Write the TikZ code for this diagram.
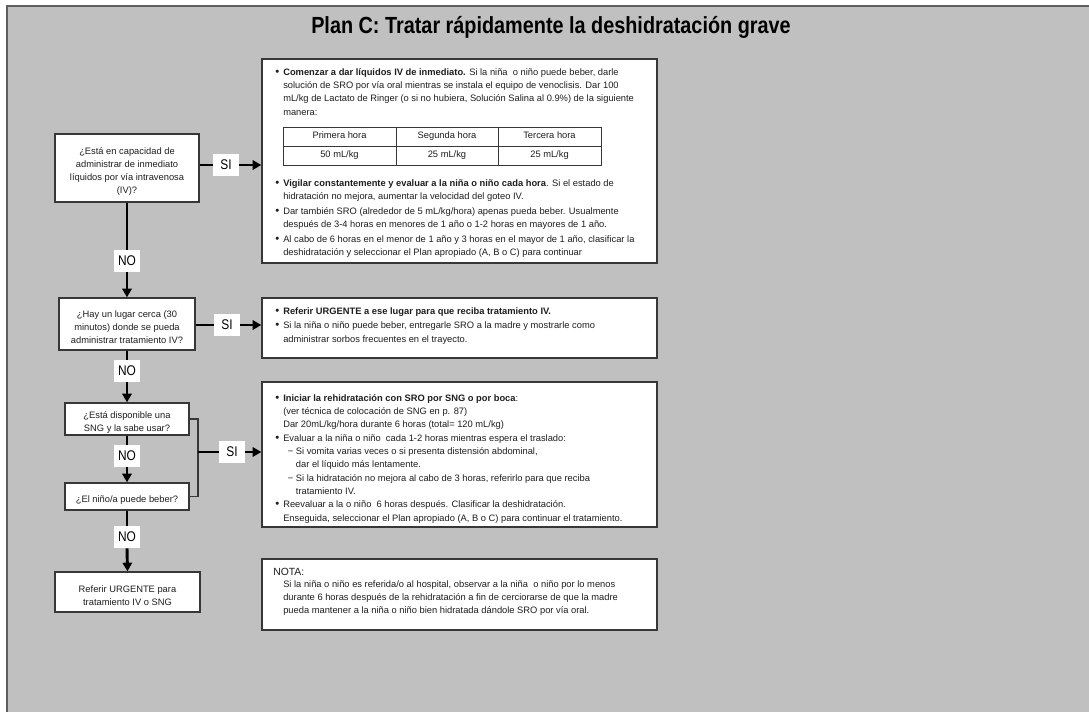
\documentclass[tikz,border=0pt]{standalone}
\usepackage{fontspec}
\setmainfont{Liberation Sans}
\newfontfamily\narrowfont[FakeStretch=0.85]{Liberation Sans}
\usetikzlibrary{arrows.meta,fit}
\definecolor{bg}{RGB}{192,192,192}
\definecolor{frame}{RGB}{55,55,55}
\definecolor{txt}{RGB}{30,30,30}
\newcommand\bul{\leavevmode\llap{{\fontsize{8.5}{8}\selectfont\textbullet}\hspace{3pt}}}
\newcommand\dashitem{\hspace*{3.5pt}\makebox[6pt][l]{−}}
\tikzset{
  box/.style={draw=frame, line width=1pt, fill=white, inner sep=0pt},
  qtext/.style={font=\fontsize{7}{9.8}\selectfont, text=txt, align=center, inner sep=0pt, yshift=-2.5pt},
  btext/.style={font=\fontsize{7}{10}\selectfont, text=txt, align=left, inner sep=0pt, anchor=north west},
  lab/.style={fill=white, minimum width=19.5pt, minimum height=16.5pt, inner sep=0pt, font=\narrowfont\fontsize{10.5}{11}\selectfont, text=black},
  conn/.style={line width=2.2pt, draw=black},
  arr/.style={conn, -{Triangle[length=6.5pt,width=7pt]}},
  brk/.style={line width=1pt, draw=frame},
  cell/.style={draw=frame, line width=0.7pt, inner sep=0pt},
  celltext/.style={inner sep=0pt, font=\fontsize{7}{8}\selectfont, text=txt, text height=5.1pt, text depth=1.5pt},
  pageborder/.style={draw=frame!80, line width=1.2pt}
}
\begin{document}
\begin{tikzpicture}[x=0.75pt,y=-0.75pt]
\useasboundingbox (0,0) rectangle (1089,711);
\clip (0,0) rectangle (1089,711);
\fill[bg] (7,6) rectangle (1100,720);
\draw[pageborder] (1100,6) -- (7,6) -- (7,720);

\node[font=\narrowfont\bfseries\fontsize{17.5}{20}\selectfont, text=black] (title) at (551,27) {Plan C: Tratar rápidamente la deshidratación grave};

% question boxes
\node[box, fit={(55,134) (199,202)}] (q1) {};
\node[box, fit={(59,298) (195,350)}] (q2) {};
\node[box, fit={(65,403) (189,435)}] (q3) {};
\node[box, fit={(65,483) (189,510)}] (q4) {};
\node[box, fit={(55,572) (200,612)}] (q5) {};
\node[qtext] (q1t) at (q1.center) {¿Está en capacidad de\\ administrar de inmediato\\ líquidos por vía intravenosa\\ (IV)?};
\node[qtext] (q2t) at (q2.center) {¿Hay un lugar cerca (30\\ minutos) donde se pueda\\ administrar tratamiento IV?};
\node[qtext] (q3t) at (q3.center) {¿Está disponible una\\ SNG y la sabe usar?};
\node[qtext] (q4t) at (q4.center) {¿El niño/a puede beber?};
\node[qtext] (q5t) at (q5.center) {Referir URGENTE para\\ tratamiento IV o SNG};

% action boxes
\node[box, fit={(262,59) (657,263)}] (a1) {};
\node[box, fit={(262,298) (657,358)}] (a2) {};
\node[box, fit={(262,382) (657,527)}] (a3) {};
\node[box, fit={(262,559) (657,630)}] (nota) {};

\node[btext] (a1t) at (283,68) {\bul\textbf{Comenzar a dar líquidos IV de inmediato.} Si la niña\ \ o niño puede beber, darle\\
solución de SRO por vía oral mientras se instala el equipo de venoclisis. Dar 100\\
mL/kg de Lactato de Ringer (o si no hubiera, Solución Salina al 0.9\%) de la siguiente\\
manera:};

\node[cell, fit={(283,127) (396,146)}] (t11) {};
\node[cell, fit={(396,127) (498,146)}] (t12) {};
\node[cell, fit={(498,127) (601,146)}] (t13) {};
\node[cell, fit={(283,146) (396,165)}] (t21) {};
\node[cell, fit={(396,146) (498,165)}] (t22) {};
\node[cell, fit={(498,146) (601,165)}] (t23) {};
\node[celltext] (t11t) at (t11.center) {Primera hora};
\node[celltext] (t12t) at (t12.center) {Segunda hora};
\node[celltext] (t13t) at (t13.center) {Tercera hora};
\node[celltext] (t21t) at (t21.center) {50 mL/kg};
\node[celltext] (t22t) at (t22.center) {25 mL/kg};
\node[celltext] (t23t) at (t23.center) {25 mL/kg};

\node[btext] (a1u) at (283,179) {\bul\textbf{Vigilar constantemente y evaluar a la niña o niño cada hora}. Si el estado de\\
hidratación no mejora, aumentar la velocidad del goteo IV.\\[1pt]
\bul Dar también SRO (alrededor de 5 mL/kg/hora) apenas pueda beber. Usualmente\\
después de 3-4 horas en menores de 1 año o 1-2 horas en mayores de 1 año.\\[1pt]
\bul Al cabo de 6 horas en el menor de 1 año y 3 horas en el mayor de 1 año, clasificar la\\
deshidratación y seleccionar el Plan apropiado (A, B o C) para continuar};

\node[btext] (a2t) at (283,307) {\bul\textbf{Referir URGENTE a ese lugar para que reciba tratamiento IV.}\\[1pt]
\bul Si la niña o niño puede beber, entregarle SRO a la madre y mostrarle como\\
administrar sorbos frecuentes en el trayecto.};

\node[btext] (a3t) at (283,394) {\bul\textbf{Iniciar la rehidratación con SRO por SNG o por boca}:\\
(ver técnica de colocación de SNG en p. 87)\\
Dar 20mL/kg/hora durante 6 horas (total= 120 mL/kg)\\
\bul Evaluar a la niña o niño\ \ cada 1-2 horas mientras espera el traslado:\\
\dashitem Si vomita varias veces o si presenta distensión abdominal,\\
\hspace*{9.5pt}dar el líquido más lentamente.\\
\dashitem Si la hidratación no mejora al cabo de 3 horas, referirlo para que reciba\\
\hspace*{9.5pt}tratamiento IV.\\
\bul Reevaluar a la o niño\ \ 6 horas después. Clasificar la deshidratación.\\
Enseguida, seleccionar el Plan apropiado (A, B o C) para continuar el tratamiento.};

\node[btext, font=\fontsize{7.8}{9}\selectfont] (notah) at (273,568) {NOTA:};
\node[btext] (notat) at (283,580) {Si la niña o niño es referida/o al hospital, observar a la niña\ \ o niño por lo menos\\
durante 6 horas después de la rehidratación a fin de cerciorarse de que la madre\\
pueda mantener a la niña o niño bien hidratada dándole SRO por vía oral.};

% labels
\node[lab] (si1) at (226,165) {SI};
\node[lab] (si2) at (227,325) {SI};
\node[lab] (si3) at (232,452) {SI};
\node[lab] (no1) at (127,261) {NO};
\node[lab] (no2) at (127,371) {NO};
\node[lab] (no3) at (127,456) {NO};
\node[lab] (no4) at (127,537) {NO};

% connectors
\draw[conn] (si1.west -| q1.east) -- (si1.west);
\draw[arr] (si1.east) -- (si1.east -| a1.west);
\draw[conn] (si2.west -| q2.east) -- (si2.west);
\draw[arr] (si2.east) -- (si2.east -| a2.west);
\coordinate (bx) at (198,452);
\draw[brk] (q3.east) -| (bx |- q4.east) -- (q4.east);
\draw[conn] (bx) -- (si3.west);
\draw[arr] (si3.east) -- (si3.east -| a3.west);

\draw[conn] (q1.south) -- (no1.north);
\draw[arr] (no1.south) -- (q2.north);
\draw[conn] (q2.south) -- (no2.north);
\draw[arr] (no2.south) -- (q3.north);
\draw[conn] (q3.south) -- (no3.north);
\draw[arr] (no3.south) -- (q4.north);
\draw[conn] (q4.south) -- (no4.north);
\draw[arr] (no4.south) -- (q5.north);
\end{tikzpicture}
\end{document}
